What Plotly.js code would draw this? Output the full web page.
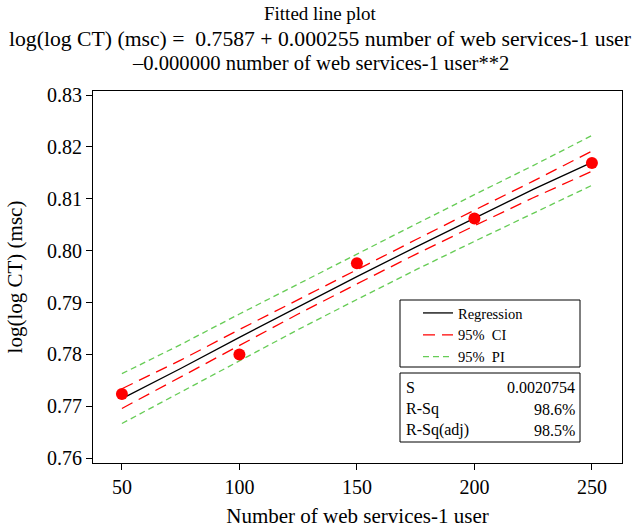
<!DOCTYPE html>
<html><head><meta charset="utf-8">
<script src="https://cdn.plot.ly/plotly-3.0.1.min.js"></script>
<style>html,body{margin:0;padding:0;background:#fff}</style>
</head><body><div id="chart" style="width:636px;height:529px"></div>
<script>
// Observed data
const users = [50, 100, 150, 200, 250];
const logLogCT = [0.7724, 0.7800, 0.7976, 0.8062, 0.8169];
// Fitted line and bands
const fitX = [50, 75, 100, 125, 150, 175, 200, 225, 250];
const fitY = [0.7715, 0.7773, 0.7833, 0.7892, 0.7950, 0.8007, 0.8063, 0.8118, 0.8170];
const ciUpper = [0.7734, 0.7789, 0.7848, 0.7906, 0.7964, 0.8021, 0.8078, 0.8134, 0.8192];
const ciLower = [0.7696, 0.7757, 0.7818, 0.7878, 0.7936, 0.7993, 0.8048, 0.8102, 0.8153];
const piUpper = [0.7763, 0.7819, 0.7878, 0.7936, 0.7994, 0.8051, 0.8108, 0.8164, 0.8222];
const piLower = [0.7667, 0.7727, 0.7788, 0.7848, 0.7906, 0.7963, 0.8018, 0.8072, 0.8126];
const xTicks = [50, 100, 150, 200, 250];
const yTicks = [0.76, 0.77, 0.78, 0.79, 0.80, 0.81, 0.82, 0.83];
const titleLines = ['Fitted line plot',
  'log(log CT) (msc) =  0.7587 + 0.000255 number of web services-1 user',
  '\u20130.000000 number of web services-1 user**2'];
const statLabels = ['S', 'R-Sq', 'R-Sq(adj)'];
const statValues = ['0.0020754', '98.6%', '98.5%'];
const legendNames = ['Regression', '95%\u00a0\u00a0CI', '95%\u00a0\u00a0PI'];

const FONT = 'Liberation Serif, Times New Roman, serif';
const band = (a, b) => a.concat([null], b);
const bandX = fitX.concat([null], fitX);

const traces = [
  {x: bandX, y: band(piUpper, piLower), mode: 'lines', name: legendNames[2], legendrank: 3,
   line: {color: '#66cc55', width: 1.3, dash: '6px,4px'}, connectgaps: false, hoverinfo: 'skip'},
  {x: bandX, y: band(ciUpper, ciLower), mode: 'lines', name: legendNames[1], legendrank: 2,
   line: {color: '#ff0000', width: 1.3, dash: '12px,7px'}, connectgaps: false, hoverinfo: 'skip'},
  {x: fitX, y: fitY, mode: 'lines', name: legendNames[0], legendrank: 1,
   line: {color: '#000000', width: 1.3}},
  {x: users, y: logLogCT, mode: 'markers', showlegend: false,
   marker: {color: '#ff0000', size: 12}}
];

const L = 93, R = 622, T = 91, B = 463, W = 636, H = 529;
const px = v => (v - L) / (R - L);
const py = v => (B - v) / (B - T);

const annotations = [];
const titleRows = [14, 39, 63];
const titleSizes = [19, 21.7, 20.6];
titleLines.forEach((s, i) => {
  annotations.push({xref: 'paper', yref: 'paper', x: px(320), y: py(titleRows[i]), xanchor: 'center', yanchor: 'middle',
    text: s, showarrow: false, font: {family: FONT, size: titleSizes[i], color: '#000'}});
});
const statRows = [387, 409, 430];
statLabels.forEach((s, i) => {
  annotations.push({xref: 'paper', yref: 'paper', x: px(404), y: py(statRows[i]), xanchor: 'left', yanchor: 'middle',
    text: s, showarrow: false, font: {family: FONT, size: 16, color: '#000'}});
  annotations.push({xref: 'paper', yref: 'paper', x: px(577), y: py(statRows[i]), xanchor: 'right', yanchor: 'middle',
    text: statValues[i], showarrow: false, font: {family: FONT, size: 16, color: '#000'}});
});

const layout = {
  width: W, height: H,
  margin: {l: L, r: W - R, t: T, b: H - B, pad: 0},
  paper_bgcolor: '#fff', plot_bgcolor: '#fff',
  font: {family: FONT, color: '#000', size: 20},
  xaxis: {
    range: [37.7, 262.8], tickvals: xTicks, ticktext: xTicks.map(String),
    showgrid: false, zeroline: false, showline: true, mirror: true, linecolor: '#000', linewidth: 1,
    ticks: 'outside', ticklen: 6, tickcolor: '#000', tickfont: {family: FONT, size: 20},
    title: {text: 'Number of web services-1 user', font: {family: FONT, size: 21}, standoff: 11}
  },
  yaxis: {
    range: [0.75909, 0.83077], tickvals: yTicks, ticktext: yTicks.map(v => v.toFixed(2)),
    showgrid: false, zeroline: false, showline: true, mirror: true, linecolor: '#000', linewidth: 1,
    ticks: 'outside', ticklen: 6, tickcolor: '#000', tickfont: {family: FONT, size: 20},
    title: {text: 'log(log CT) (msc)', font: {family: FONT, size: 21}, standoff: 18}
  },
  showlegend: true,
  legend: {x: px(418), y: py(297), xanchor: 'left', yanchor: 'top', bgcolor: 'rgba(0,0,0,0)',
    borderwidth: 0, font: {family: FONT, size: 14.5, color: '#000'}, tracegroupgap: 0, traceorder: 'normal'},
  shapes: [
    {type: 'rect', xref: 'paper', yref: 'paper', x0: px(400), x1: px(580), y0: py(367), y1: py(300),
     line: {color: '#000', width: 1}, fillcolor: 'rgba(255,255,255,1)', layer: 'below'},
    {type: 'rect', xref: 'paper', yref: 'paper', x0: px(400), x1: px(580), y0: py(442), y1: py(373),
     line: {color: '#000', width: 1}, fillcolor: 'rgba(255,255,255,1)', layer: 'below'}
  ],
  annotations: annotations
};

Plotly.newPlot('chart', traces, layout, {displayModeBar: false, staticPlot: true});
</script></body></html>
